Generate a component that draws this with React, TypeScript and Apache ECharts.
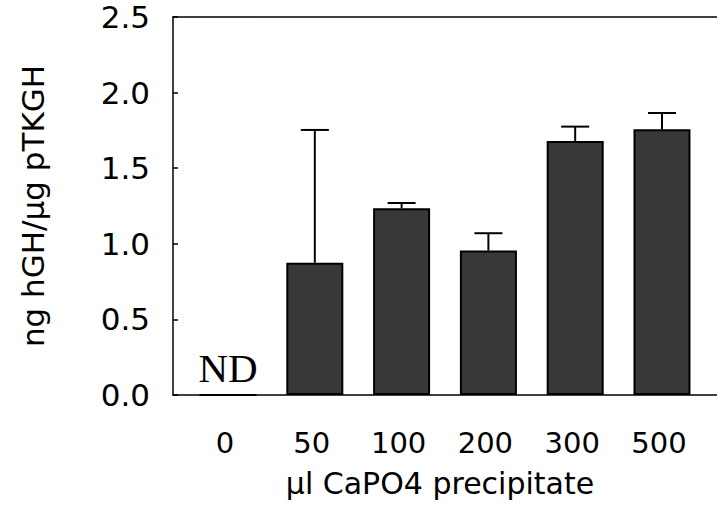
import React, { useEffect, useRef } from "react";
import * as echarts from "echarts";

const categories = ["0", "50", "100", "200", "300", "500"];
const means = [0, 0.875, 1.235, 0.955, 1.68, 1.757];
const errTops = [null, 1.753, 1.27, 1.07, 1.775, 1.865];
const notDetected = ["ND", "", "", "", "", ""];
const yTicks = [0, 0.5, 1.0, 1.5, 2.0, 2.5];

export default function App() {
  const ref = useRef<HTMLDivElement>(null);
  useEffect(() => {
    if (!ref.current) return;
    const chart = echarts.init(ref.current, null, { renderer: "svg" });
    const idx = categories.map((_, i) => i);
    const font = "DejaVu Sans, Liberation Sans, Arial, sans-serif";
    chart.setOption({
      animation: false,
      backgroundColor: "#ffffff",
      grid: { left: 173, right: 0, top: 17, bottom: 120 },
      xAxis: [
        {
          type: "value",
          min: -0.634,
          max: 5.634,
          splitLine: { show: false },
          axisLine: { show: true, onZero: false, lineStyle: { color: "#000", width: 1.5 } },
          axisTick: { show: false },
          axisLabel: {
            customValues: idx,
            formatter: (v: number) => categories[Math.round(v)] ?? "",
            fontFamily: font,
            fontSize: 29,
            color: "#000",
            margin: 33,
            padding: [0, 6, 0, 0],
          },
          name: "µl CaPO4 precipitate",
          nameLocation: "middle",
          nameGap: 73,
          nameTextStyle: {
            fontFamily: font,
            fontSize: 30,
            color: "#000",
            padding: [0, 10, 0, 0],
          },
        },
        {
          type: "value",
          position: "top",
          min: -0.634,
          max: 5.634,
          splitLine: { show: false },
          axisLine: { show: true, onZero: false, lineStyle: { color: "#000", width: 1.5 } },
          axisTick: { show: false },
          axisLabel: { show: false },
        },
      ],
      yAxis: {
        type: "value",
        min: yTicks[0],
        max: yTicks[yTicks.length - 1],
        interval: 0.5,
        splitLine: { show: false },
        axisLine: { show: true, onZero: false, lineStyle: { color: "#000", width: 1.5 } },
        axisTick: { show: true, inside: true, length: 5, lineStyle: { color: "#000", width: 1.5 } },
        axisLabel: {
          formatter: (v: number) => v.toFixed(1),
          fontFamily: font,
          fontSize: 31,
          color: "#000",
          margin: 23,
          padding: [8, 0, 0, 0],
        },
        name: "ng hGH/µg pTKGH",
        nameLocation: "middle",
        nameGap: 125,
        nameTextStyle: { fontFamily: font, fontSize: 31, color: "#000" },
      },
      series: [
        {
          type: "bar",
          xAxisIndex: 0,
          barWidth: 57,
          data: means.map((v, i) => [i, v]),
          itemStyle: { color: "#383838", borderColor: "#000", borderWidth: 2 },
          label: {
            show: true,
            position: "top",
            distance: 6,
            formatter: (p: any) => notDetected[p.dataIndex],
            fontFamily: "Liberation Serif, Times New Roman, serif",
            fontSize: 41,
            color: "#000",
          },
        },
        {
          type: "custom",
          xAxisIndex: 0,
          data: means
            .map((v, i) => [i, v, errTops[i]])
            .filter((d) => d[2] !== null),
          renderItem: (params: any, api: any) => {
            const x = api.value(0);
            const base = api.coord([x, api.value(1)]);
            const top = api.coord([x, api.value(2)]);
            const half = 14;
            const style = { stroke: "#000", lineWidth: 2 };
            return {
              type: "group",
              children: [
                { type: "line", shape: { x1: base[0], y1: base[1], x2: top[0], y2: top[1] }, style },
                { type: "line", shape: { x1: top[0] - half, y1: top[1], x2: top[0] + half, y2: top[1] }, style },
              ],
            };
          },
          z: 5,
        },
      ],
    });
    return () => chart.dispose();
  }, []);
  return (
    <div
      ref={ref}
      style={{ position: "fixed", left: 0, top: 0, width: 717, height: 515 }}
    />
  );
}
